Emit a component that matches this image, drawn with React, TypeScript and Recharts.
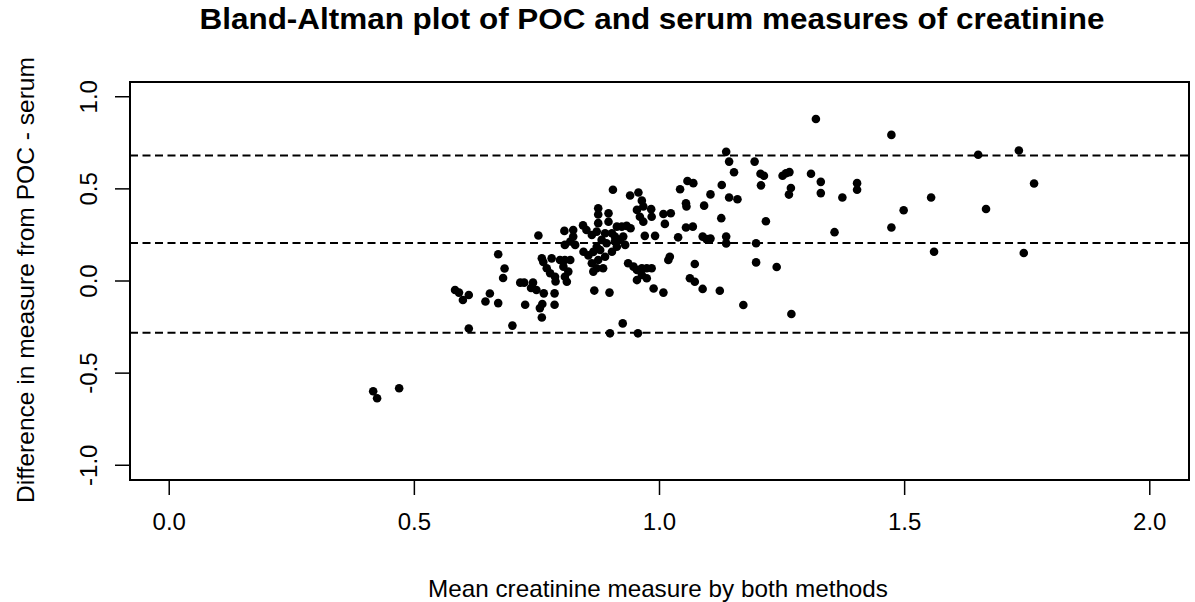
import { ReferenceArea, ReferenceLine, Scatter, ScatterChart, XAxis, YAxis } from "recharts"

const meanValues = [
  0.416, 0.424, 0.469, 0.583, 0.591, 0.599, 0.611, 0.611, 0.645, 0.654,
  0.671, 0.671, 0.684, 0.681, 0.7, 0.716, 0.724, 0.742, 0.738, 0.749,
  0.764, 0.726, 0.756, 0.761, 0.76, 0.753, 0.76, 0.763, 0.77, 0.78,
  0.777, 0.787, 0.788, 0.786, 0.786, 0.797, 0.807, 0.818, 0.804, 0.814,
  0.807, 0.811, 0.806, 0.824, 0.824, 0.818, 0.807, 0.828, 0.844, 0.851,
  0.862, 0.872, 0.875, 0.875, 0.875, 0.845, 0.855, 0.865, 0.879, 0.872,
  0.875, 0.862, 0.872, 0.865, 0.885, 0.889, 0.867, 0.882, 0.892, 0.889,
  0.903, 0.896, 0.896, 0.905, 0.909, 0.898, 0.899, 0.903, 0.913, 0.909,
  0.919, 0.926, 0.93, 0.913, 0.923, 0.933, 0.941, 0.925, 0.936, 0.947,
  0.954, 0.964, 0.974, 0.984, 0.964, 0.954, 0.974, 0.988, 1.008, 0.94,
  0.957, 0.964, 0.967, 0.954, 0.983, 0.96, 0.967, 0.984, 0.97, 0.991,
  0.956, 1.008, 1.023, 1.011, 1.021, 1.018, 1.038, 1.054, 1.068, 1.057,
  1.069, 1.042, 1.054, 1.055, 1.072, 1.062, 1.072, 1.088, 1.096, 1.104,
  1.091, 1.104, 1.127, 1.142, 1.159, 1.126, 1.136, 1.136, 1.088, 1.123,
  1.171, 1.136, 1.142, 1.152, 1.194, 1.206, 1.213, 1.207, 1.251, 1.258,
  1.265, 1.268, 1.264, 1.217, 1.197, 1.197, 1.239, 1.269, 1.319, 1.309,
  1.329, 1.329, 1.373, 1.403, 1.403, 1.357, 1.473, 1.473, 1.498, 1.554,
  1.56, 1.65, 1.666, 1.733, 1.743, 1.764,
]

const diffValues = [
  -0.598, -0.636, -0.582, -0.049, -0.063, -0.103, -0.076, -0.258, -0.111, -0.068,
  -0.12, 0.145, 0.068, 0.016, -0.242, -0.009, -0.009, -0.009, -0.038, -0.049,
  -0.067, -0.129, -0.147, -0.125, -0.198, 0.247, 0.123, 0.103, 0.069, 0.123,
  0.042, 0.023, -0.003, -0.067, -0.129, 0.114, 0.114, 0.114, 0.078, 0.051,
  0.023, -0.004, 0.272, 0.277, 0.241, 0.214, 0.196, 0.196, 0.302, 0.277,
  0.25, 0.268, 0.395, 0.361, 0.314, 0.159, 0.139, 0.158, 0.168, 0.186,
  0.114, 0.096, 0.069, 0.051, 0.069, 0.132, -0.052, 0.223, 0.205, 0.259,
  0.259, 0.368, 0.322, 0.495, 0.214, -0.063, -0.284, 0.159, 0.186, 0.241,
  0.223, 0.241, 0.196, 0.295, 0.295, 0.299, 0.286, -0.23, 0.096, 0.078,
  0.06, 0.069, 0.069, 0.069, 0.033, 0.005, 0.015, -0.041, -0.063, 0.464,
  0.48, 0.436, 0.404, 0.386, 0.39, 0.349, 0.322, 0.349, 0.245, 0.245,
  -0.284, 0.364, 0.368, 0.31, 0.132, 0.114, 0.237, 0.29, 0.295, 0.543,
  0.531, 0.498, 0.422, 0.404, 0.092, 0.015, -0.004, 0.241, 0.227, 0.23,
  0.409, 0.47, 0.521, 0.453, 0.444, 0.341, 0.241, 0.204, -0.043, -0.053,
  -0.13, 0.701, 0.648, 0.59, 0.648, 0.582, 0.571, 0.519, 0.571, 0.585,
  0.591, 0.505, 0.469, 0.324, 0.205, 0.101, 0.076, -0.179, 0.879, 0.582,
  0.538, 0.477, 0.453, 0.531, 0.495, 0.265, 0.793, 0.29, 0.384, 0.453,
  0.159, 0.685, 0.391, 0.708, 0.152, 0.529,
]

// upper limit, mean difference, lower limit
const agreementLines = [0.681, 0.206, -0.281]

const xTicks = [0, 0.5, 1, 1.5, 2]
const yTicks = [-1, -0.5, 0, 0.5, 1]

const points = meanValues.map((m, i) => ({ mean: m, diff: diffValues[i] }))

const font = "'Liberation Sans', Arial, sans-serif"

function XTick({ x, y, payload }: any) {
  return (
    <text x={x} y={y} dy="0.71em" textAnchor="middle" fontSize={24} fontFamily={font} fill="#000">
      {Number(payload.value).toFixed(1)}
    </text>
  )
}

function YTick({ x, y, payload }: any) {
  return (
    <text
      x={x}
      y={y}
      textAnchor="middle"
      transform={`rotate(-90, ${x}, ${y})`}
      fontSize={24}
      fontFamily={font}
      fill="#000"
    >
      {Number(payload.value).toFixed(1)}
    </text>
  )
}

const Dot = (props: any) => <circle cx={props.cx} cy={props.cy} r={4.3} fill="#000" />

export default function App() {
  return (
    <div style={{ position: "absolute", left: 0, top: 0, background: "#fff" }}>
      <ScatterChart
        width={1195}
        height={602}
        margin={{ top: 82, right: 6, bottom: 92, left: 70 }}
      >
        <XAxis
          type="number"
          dataKey="mean"
          domain={[-0.08, 2.08]}
          ticks={xTicks}
          allowDataOverflow
          height={30}
          axisLine={false}
          tickSize={15}
          tickMargin={18}
          tickLine={{ stroke: "#000", strokeWidth: 1.5 }}
          tick={<XTick />}
        />
        <YAxis
          type="number"
          dataKey="diff"
          domain={[-1.08, 1.08]}
          ticks={yTicks}
          allowDataOverflow
          width={60}
          axisLine={false}
          tickSize={15}
          tickMargin={18}
          tickLine={{ stroke: "#000", strokeWidth: 1.5 }}
          tick={<YTick />}
        />
        <ReferenceArea
          x1={-0.08}
          x2={2.08}
          y1={-1.08}
          y2={1.08}
          fill="none"
          stroke="#000"
          strokeWidth={2}
          ifOverflow="visible"
        />
        {agreementLines.map((v) => (
          <ReferenceLine
            key={v}
            y={v}
            stroke="#000"
            strokeWidth={2}
            strokeDasharray="8 4.5"
          />
        ))}
        <Scatter data={points} shape={Dot} isAnimationActive={false} />
        <text
          x={652}
          y={29}
          textAnchor="middle"
          fontSize={29}
          fontWeight="bold"
          fontFamily={font}
          fill="#000"
          textLength={905}
          lengthAdjust="spacingAndGlyphs"
        >
          Bland-Altman plot of POC and serum measures of creatinine
        </text>
        <text
          x={658}
          y={597}
          textAnchor="middle"
          fontSize={24}
          fontFamily={font}
          fill="#000"
          textLength={460}
          lengthAdjust="spacingAndGlyphs"
        >
          Mean creatinine measure by both methods
        </text>
        <text
          x={34}
          y={280}
          textAnchor="middle"
          transform="rotate(-90, 34, 280)"
          fontSize={24}
          fontFamily={font}
          fill="#000"
          textLength={446}
          lengthAdjust="spacingAndGlyphs"
        >
          Difference in measure from POC - serum
        </text>
      </ScatterChart>
    </div>
  )
}
